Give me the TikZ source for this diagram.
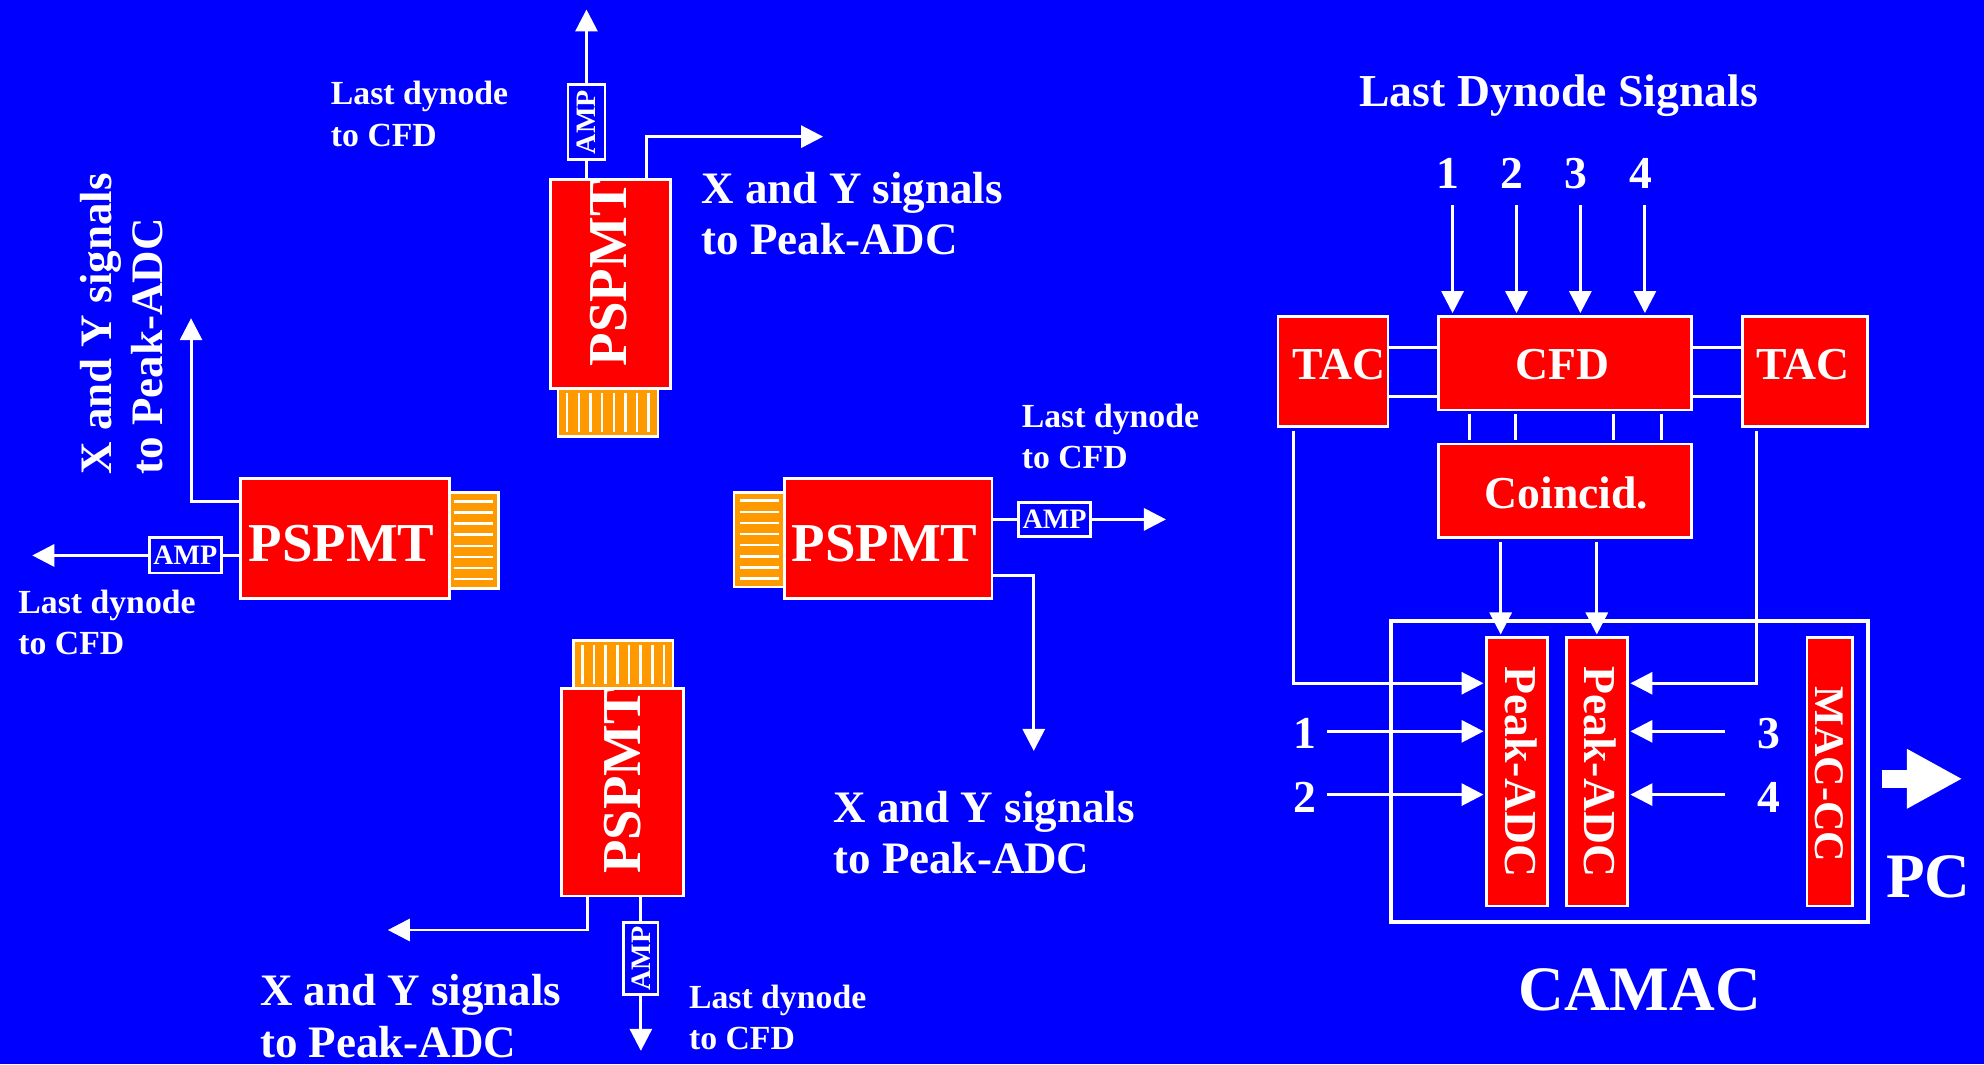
\documentclass[tikz,border=0pt]{standalone}
\usepackage{fontspec}
\setmainfont{Liberation Serif}
\usetikzlibrary{arrows.meta}

\newcommand{\unitpx}{0.012653cm}

\tikzset{
    redbox/.style={draw=white, fill=boxcolor, line width=0.75pt, inner sep=0pt, text=white},
    ampbox/.style={draw=white, fill=backcolor, line width=0.75pt, inner sep=0pt, text=white, font=\fontsize{8}{9}\selectfont\bfseries},
    hatchbox/.style={draw=white, fill=hatchcolor, line width=0.75pt, inner sep=0pt},
    hatchline/.style={white, line width=0.7pt},
    pmtlabel/.style={text=white, inner sep=0pt, font=\fontsize{15.6}{18}\selectfont\bfseries},
    boxlabel/.style={text=white, inner sep=0pt, font=\fontsize{13}{15}\selectfont\bfseries},
    maclabel/.style={text=white, inner sep=0pt, font=\fontsize{12}{14}\selectfont\bfseries},
    dynlabel/.style={text=white, inner sep=0pt, align=left, anchor=west, font=\fontsize{9.6}{11.8}\selectfont\bfseries},
    xylabel/.style={text=white, inner sep=0pt, align=left, font=\fontsize{12.8}{14.6}\selectfont\bfseries},
    biglabel/.style={text=white, inner sep=0pt, font=\fontsize{18}{20}\selectfont\bfseries},
    link/.style={white, line width=0.85pt},
    sig/.style={white, line width=0.85pt, -{Triangle[length=0.22cm, width=0.22cm]}, shorten >=1.5*\unitpx},
}

\begin{document}
\begin{tikzpicture}[x=\unitpx, y=-\unitpx]
        % Define colors
        \definecolor{backcolor}{RGB}{0, 0, 255}
        \definecolor{boxcolor}{RGB}{255, 0, 0}
        \definecolor{hatchcolor}{RGB}{255, 153, 0}

        % Background
        \useasboundingbox (0,0) rectangle (1568,841);
        \fill[backcolor] (0,0) rectangle (1568,841);

        % Draw the four PSPMT boxes
        \node[redbox, minimum width=95*\unitpx, minimum height=165*\unitpx] (pmtT) at (482.5,224.5) {};
        \node[redbox, minimum width=165*\unitpx, minimum height=95*\unitpx] (pmtL) at (272.5,425.5) {};
        \node[redbox, minimum width=164*\unitpx, minimum height=95*\unitpx] (pmtR) at (702,425.5) {};
        \node[redbox, minimum width=96*\unitpx, minimum height=164*\unitpx] (pmtB) at (492,626) {};

        \node[pmtlabel, rotate=90] (textT) at (481,216) {PSPMT};
        \node[pmtlabel] (textL) at (270,430) {PSPMT};
        \node[pmtlabel] (textR) at (699,430) {PSPMT};
        \node[pmtlabel, rotate=90] (textB) at (492,617) {PSPMT};

        % Draw the orange ends
        \node[hatchbox, minimum width=79*\unitpx, minimum height=38*\unitpx] (hatchT) at (480.5,326) {};
        \node[hatchbox, minimum width=79*\unitpx, minimum height=38*\unitpx] (hatchB) at (492.5,525) {};
        \node[hatchbox, minimum width=39*\unitpx, minimum height=76*\unitpx] (hatchL) at (374.5,427) {};
        \node[hatchbox, minimum width=40*\unitpx, minimum height=75*\unitpx] (hatchR) at (600,426.5) {};

        \foreach \name in {hatchT,hatchB}
            \foreach \i in {-3.5,-2.5,...,3.5}
                \draw[hatchline] ([xshift=\i*9.2*\unitpx, yshift=15.5*\unitpx]\name.center) -- ([xshift=\i*9.2*\unitpx, yshift=-15.5*\unitpx]\name.center);
        \foreach \name in {hatchL,hatchR}
            \foreach \i in {-3.5,-2.5,...,3.5}
                \draw[hatchline] ([xshift=-15.5*\unitpx, yshift=\i*8.8*\unitpx]\name.center) -- ([xshift=15.5*\unitpx, yshift=\i*8.8*\unitpx]\name.center);

        % Draw the AMP boxes
        \node[ampbox, minimum width=29*\unitpx, minimum height=59*\unitpx] (ampT) at (463.5,96.5) {\rotatebox{90}{AMP}};
        \node[ampbox, minimum width=57*\unitpx, minimum height=28*\unitpx] (ampL) at (146.5,439) {AMP};
        \node[ampbox, minimum width=57*\unitpx, minimum height=27*\unitpx] (ampR) at (833.5,410.5) {AMP};
        \node[ampbox, minimum width=27*\unitpx, minimum height=57*\unitpx] (ampB) at (506.5,757.5) {\rotatebox{90}{AMP}};

        % Free ends of the arrows
        \coordinate (dynT) at (463.5,6);
        \coordinate (dynL) at (24,439);
        \coordinate (dynR) at (923,410.5);
        \coordinate (dynB) at (506.5,832);
        \coordinate (xyT) at (652,108);
        \coordinate (xyL) at (151,250);
        \coordinate (xyR) at (817,595);
        \coordinate (xyB) at (305,735);

        % Arrows for the last dynode
        \draw[link] (ampT.south) -- (ampT.south |- pmtT.north);
        \draw[sig] (ampT.north) -- (dynT);
        \draw[link] (ampL.east) -- (ampL.east -| pmtL.west);
        \draw[sig] (ampL.west) -- (dynL);
        \draw[link] (ampR.west) -- (ampR.west -| pmtR.east);
        \draw[sig] (ampR.east) -- (dynR);
        \draw[link] (ampB.north) -- (ampB.north |- pmtB.south);
        \draw[sig] (ampB.south) -- (dynB);

        % Arrows for the X and Y signals
        \draw[sig] ([xshift=28.5*\unitpx]pmtT.north) |- (xyT);
        \draw[sig] ([yshift=29.5*\unitpx]pmtL.west) -| (xyL);
        \draw[sig] ([yshift=-29.5*\unitpx]pmtR.east) -| (xyR);
        \draw[sig] ([xshift=-28*\unitpx]pmtB.south) |- (xyB);

        % Labels round the PSPMTs
        \node[dynlabel] (lastT) at (261,90) {Last dynode\\to CFD};
        \node[dynlabel] (lastL) at (14,492) {Last dynode\\to CFD};
        \node[dynlabel] (lastR) at (807,345) {Last dynode\\to CFD};
        \node[dynlabel] (lastB) at (544,804) {Last dynode\\to CFD};

        \node[xylabel, anchor=west] (signT) at (554,169) {X and Y signals\\to Peak-ADC};
        \node[xylabel, rotate=90] (signL) at (96,256) {X and Y signals\\to Peak-ADC};
        \node[xylabel, anchor=west] (signR) at (658,658) {X and Y signals\\to Peak-ADC};
        \node[xylabel, anchor=west] (signB) at (205,803) {X and Y signals\\to Peak-ADC};

        % Draw the CAMAC crate
        \node[draw=white, line width=1.1pt, minimum width=377*\unitpx, minimum height=238*\unitpx, inner sep=0pt] (crate) at (1287.5,610) {};
        \node[redbox, minimum width=48*\unitpx, minimum height=212*\unitpx] (peakA) at (1199,610) {};
        \node[redbox, minimum width=48*\unitpx, minimum height=212*\unitpx] (peakB) at (1262,610) {};
        \node[redbox, minimum width=36*\unitpx, minimum height=212*\unitpx] (macc) at (1446,610) {};
        \node[boxlabel, rotate=-90] (textPeakA) at (1202,610) {Peak-ADC};
        \node[boxlabel, rotate=-90] (textPeakB) at (1265,610) {Peak-ADC};
        \node[maclabel, rotate=-90] (textMac) at (1446,612) {MAC-CC};

        % Draw the logic boxes
        \node[redbox, minimum width=87*\unitpx, minimum height=87*\unitpx] (tacL) at (1053.5,293.5) {};
        \node[redbox, minimum width=99*\unitpx, minimum height=87*\unitpx] (tacR) at (1426.5,293.5) {};
        \node[redbox, minimum width=200*\unitpx, minimum height=74*\unitpx] (cfd) at (1237,287) {};
        \node[redbox, minimum width=200*\unitpx, minimum height=74*\unitpx] (coin) at (1237,388) {};
        \node[boxlabel] (textCfd) at (1235,288) {CFD};
        \node[boxlabel] (textCoin) at (1238,390) {Coincid.};
        \node[boxlabel] (textTacL) at (1058,288) {TAC};
        \node[boxlabel] (textTacR) at (1425,288) {TAC};

        % Dynode inputs of the CFD
        \node[boxlabel] (titleDyn) at (1232,76) {Last Dynode Signals};
        \foreach \i/\x in {1/1148,2/1198.5,3/1249,4/1300} {
            \node[boxlabel] (num\i) at (\x-3.5,137) {\i};
            \coordinate (in\i) at (\x,162);
            \draw[sig] (in\i) -- (in\i |- cfd.north);
        }

        % Links between the logic boxes
        \foreach \y in {275,313} {
            \draw[link] (tacL.east |- 0,\y) -- (cfd.west |- 0,\y);
            \draw[link] (cfd.east |- 0,\y) -- (tacR.west |- 0,\y);
        }
        \foreach \x in {1161,1198,1275,1313}
            \draw[link, shorten <=2.5*\unitpx, shorten >=2.5*\unitpx] (\x,0 |- cfd.south) -- (\x,0 |- coin.north);

        % Arrows into the Peak-ADCs
        \draw[sig, shorten <=2.5*\unitpx] (1186,0 |- coin.south) -- (1186,0 |- peakA.north);
        \draw[sig, shorten <=2.5*\unitpx] (1262,0 |- coin.south) -- (1262,0 |- peakB.north);
        \draw[sig, shorten <=2.5*\unitpx] (1022,0 |- tacL.south) |- ([yshift=70*\unitpx]peakA.west);
        \draw[sig, shorten <=2.5*\unitpx] (1388,0 |- tacR.south) |- ([yshift=70*\unitpx]peakB.east);

        \node[boxlabel] (numA) at (1031,580) {1};
        \node[boxlabel] (numB) at (1031,630) {2};
        \node[boxlabel] (numC) at (1398,580) {3};
        \node[boxlabel] (numD) at (1398,630) {4};
        \coordinate (adcA) at (1049,578);
        \coordinate (adcB) at (1049,628);
        \coordinate (adcC) at (1363,578);
        \coordinate (adcD) at (1363,628);
        \draw[sig] (adcA) -- (adcA -| peakA.west);
        \draw[sig] (adcB) -- (adcB -| peakA.west);
        \draw[sig] (adcC) -- (adcC -| peakB.east);
        \draw[sig] (adcD) -- (adcD -| peakB.east);

        % Big arrow to the PC
        \coordinate (pcTail) at (1487,615.5);
        \coordinate (pcTip) at (1551,615.5);
        \draw[white, line width=14*\unitpx, -{Triangle[length=44*\unitpx, width=44*\unitpx]}] (pcTail) -- (pcTip);

        \node[biglabel] (textPc) at (1524,693) {PC};
        \node[biglabel] (textCamac) at (1296,782) {CAMAC};
\end{tikzpicture}
\end{document}
